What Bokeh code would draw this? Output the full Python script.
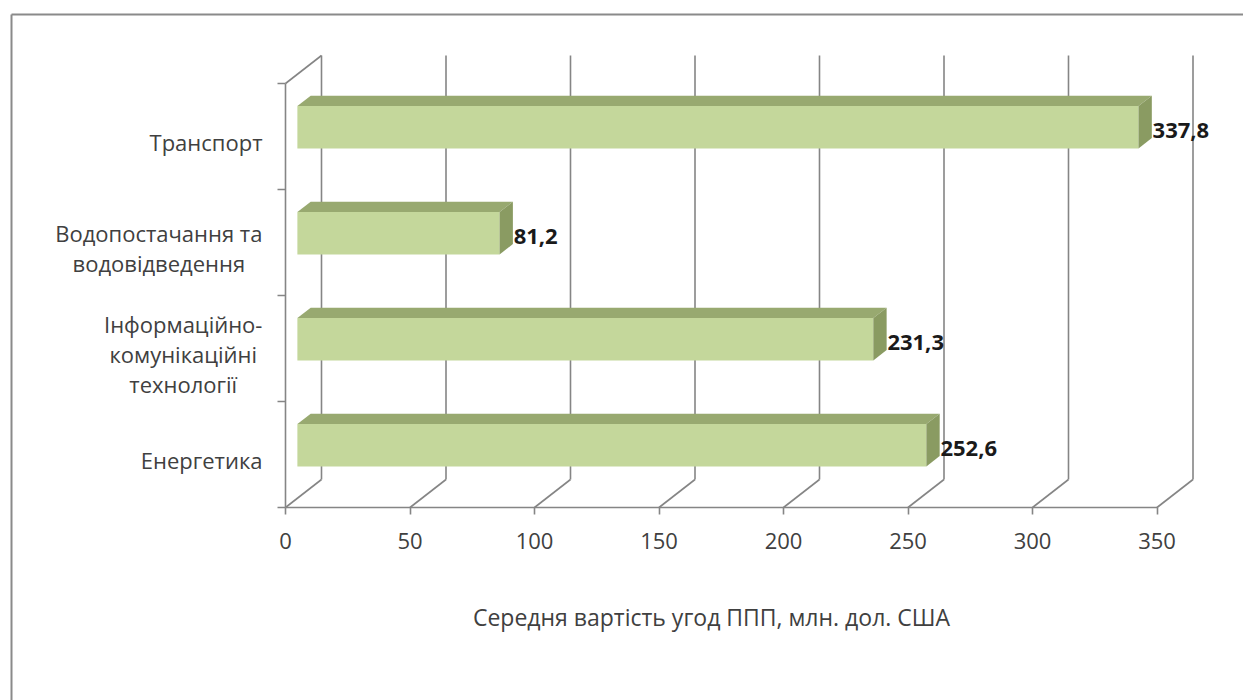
from bokeh.plotting import figure
from bokeh.models import Range1d, LinearAxis, FixedTicker
from bokeh.core.properties import value
from bokeh.embed import file_html
from bokeh.resources import INLINE

# ---- data (bottom to top) ----
categories = [
    "Енергетика",
    "Інформаційно-комунікаційні технології",
    "Водопостачання та водовідведення",
    "Транспорт",
]
category_lines = [
    ["Енергетика"],
    ["Інформаційно-", "комунікаційні", "технології"],
    ["Водопостачання та", "водовідведення"],
    ["Транспорт"],
]
values = [252.6, 231.3, 81.2, 337.8]
x_ticks = [0, 50, 100, 150, 200, 250, 300, 350]
x_title = "Середня вартість  угод ППП, млн. дол. США"

# ---- layout of the pseudo-3D box ----
W, H = 1243, 700
X0_PX, Y0_PX = 285, 507          # front floor corner (value 0)
PX_PER_VALUE = 2.49
PX_PER_BAND = 106
DEPTH_PX = (36, 28)              # shift from front plane to back wall


def sx(px):
    return (px - X0_PX) / PX_PER_VALUE


def sy(py):
    return (Y0_PX - py) / PX_PER_BAND


DX = DEPTH_PX[0] / PX_PER_VALUE
DY = DEPTH_PX[1] / PX_PER_BAND
N = len(categories)
XMAX = x_ticks[-1]

GRID = "#858585"
FRONT = "#c4d79b"
TOP = "#98a970"
SIDE = "#8a9b62"
TEXT = "#404040"
FONT = "Open Sans"

p = figure(
    width=W, height=H,
    x_range=Range1d(sx(0), sx(W)), y_range=Range1d(sy(H), sy(0)),
    output_backend="svg", toolbar_location=None, min_border=0,
    x_axis_location=None, y_axis_location=None,
    outline_line_color=None, background_fill_color="white",
)
p.grid.visible = False

# outer frame (top and left edges)
p.segment(x0=[sx(11), sx(11)], y0=[sy(14), sy(14)],
          x1=[sx(W + 5), sx(11)], y1=[sy(14), sy(H + 5)],
          line_color="#8a8a8a", line_width=2)

# back wall gridlines, floor diagonals and left wall top edge
p.segment(x0=[t + DX for t in x_ticks], y0=[DY] * len(x_ticks),
          x1=[t + DX for t in x_ticks], y1=[N + DY] * len(x_ticks),
          line_color=GRID, line_width=1.6)
p.segment(x0=x_ticks, y0=[0] * len(x_ticks),
          x1=[t + DX for t in x_ticks], y1=[DY] * len(x_ticks),
          line_color=GRID, line_width=1.6)
p.segment(x0=[0], y0=[N], x1=[DX], y1=[N + DY], line_color=GRID, line_width=1.6)

# ---- bars: front face, top face, side face ----
F, B = 0.33, 0.70               # depth fractions of bar front / back
BAR_H = 0.40
centers = [i + 0.5 for i in range(N)]
fb = [c - BAR_H / 2 + F * DY for c in centers]
ft = [c + BAR_H / 2 + F * DY for c in centers]
shift_x = (B - F) * DX
shift_y = (B - F) * DY

p.quad(left=[F * DX] * N, right=[v + F * DX for v in values],
       bottom=fb, top=ft, fill_color=FRONT, line_color=None)

top_xs = [[F * DX, v + F * DX, v + F * DX + shift_x, F * DX + shift_x] for v in values]
top_ys = [[t, t, t + shift_y, t + shift_y] for t in ft]
p.patches(xs=top_xs, ys=top_ys, fill_color=TOP, line_color=None)

side_xs = [[v + F * DX, v + F * DX + shift_x, v + F * DX + shift_x, v + F * DX] for v in values]
side_ys = [[b, b + shift_y, t + shift_y, t] for b, t in zip(fb, ft)]
p.patches(xs=side_xs, ys=side_ys, fill_color=SIDE, line_color=None)

# value labels
p.text(x=[v + B * DX + 0.3 for v in values],
       y=[(b + t) / 2 - 3 / PX_PER_BAND for b, t in zip(fb, ft)],
       text=[f"{v:.1f}".replace(".", ",") for v in values],
       text_font=value(FONT), text_font_style="bold", text_font_size="22px",
       text_color="#1a1a1a", text_align="left", text_baseline="middle")

# ---- axes ----
xaxis = LinearAxis(fixed_location=0, bounds=(0, XMAX), ticker=FixedTicker(ticks=x_ticks))
xaxis.axis_line_color = GRID
xaxis.axis_line_width = 1.6
xaxis.major_tick_line_color = GRID
xaxis.major_tick_line_width = 1.6
xaxis.major_tick_out = 7
xaxis.major_tick_in = 0
xaxis.minor_tick_line_color = None
xaxis.major_label_text_font = FONT
xaxis.major_label_text_font_size = "22px"
xaxis.major_label_text_color = TEXT
xaxis.major_label_standoff = 18
p.add_layout(xaxis, "below")

yaxis = LinearAxis(fixed_location=0, bounds=(0, N), ticker=FixedTicker(ticks=list(range(N + 1))))
yaxis.axis_line_color = GRID
yaxis.axis_line_width = 1.6
yaxis.major_tick_line_color = GRID
yaxis.major_tick_line_width = 1.6
yaxis.major_tick_out = 8
yaxis.major_tick_in = 0
yaxis.minor_tick_line_color = None
yaxis.major_label_text_font_size = "0px"
yaxis.major_label_text_color = None
p.add_layout(yaxis, "left")

# ---- category labels: lines centred, blocks right-aligned ----
RIGHT_PX = 262
LINE_PX = 30
CHAR_PX = 12.2
lx, ly, lt, la = [], [], [], []
for i, lines in enumerate(category_lines):
    band_mid_px = Y0_PX - (i + 0.5) * PX_PER_BAND + 5
    n = len(lines)
    if n == 1:
        cx, align = RIGHT_PX, "right"
    else:
        cx, align = RIGHT_PX - 0.5 * max(len(s) for s in lines) * CHAR_PX, "center"
    for j, s in enumerate(lines):
        lx.append(sx(cx))
        ly.append(sy(band_mid_px + (j - (n - 1) / 2) * LINE_PX))
        lt.append(s)
        la.append(align)
p.text(x=lx, y=ly, text=lt, text_align=la, text_baseline="middle",
       text_font=value(FONT), text_font_size="22px", text_color=TEXT)

# axis title
p.text(x=[sx(714)], y=[sy(616)], text=[x_title], text_align="center",
       text_baseline="middle", text_font=value(FONT), text_font_size="23px",
       text_color=TEXT)

open("out.html", "w").write(file_html(p, INLINE))
